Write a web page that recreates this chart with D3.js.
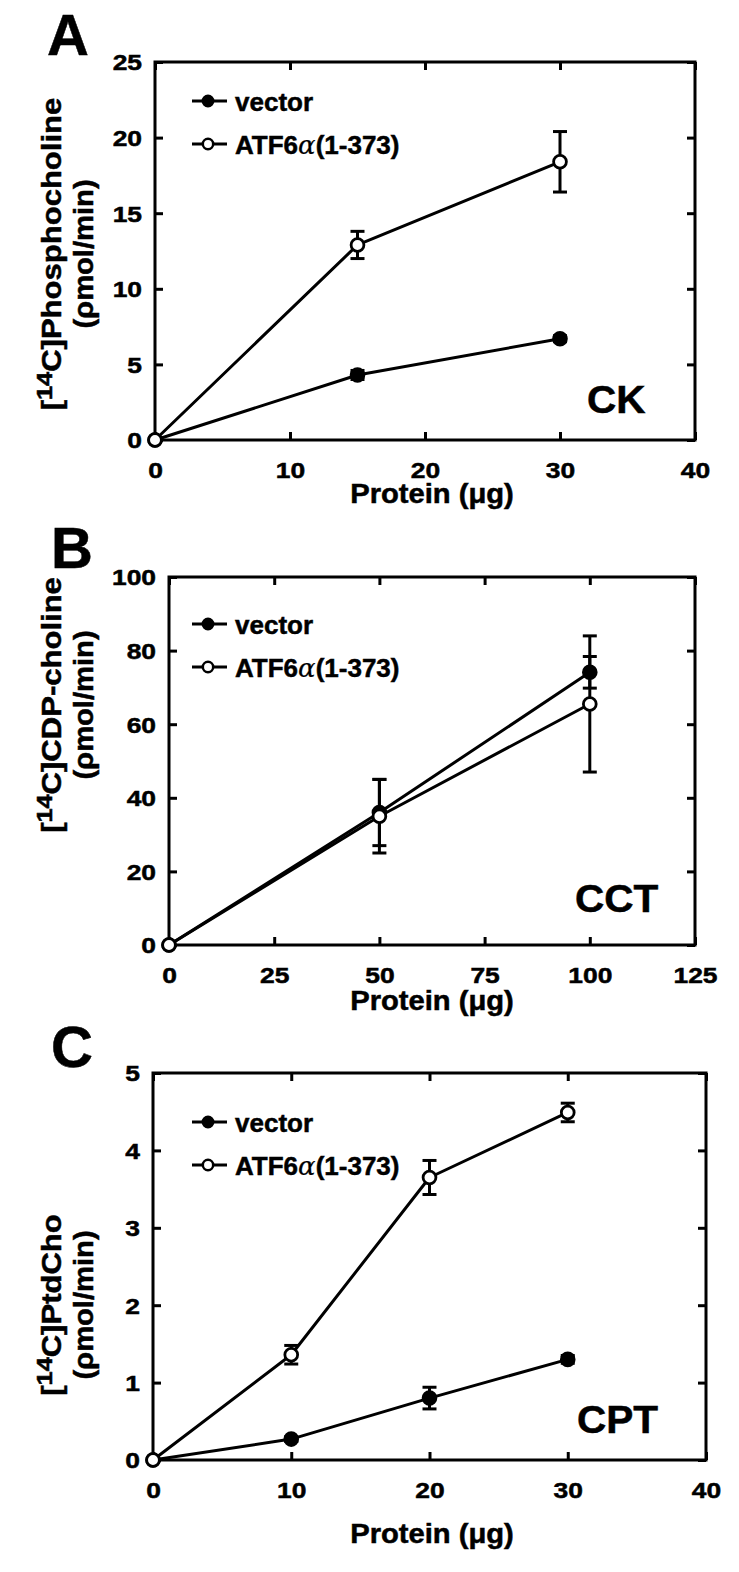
<!DOCTYPE html>
<html><head><meta charset="utf-8">
<script src="https://cdn.jsdelivr.net/npm/d3@7"></script>
<style>
html,body{margin:0;padding:0;background:#fff;}
svg text{font-family:"Liberation Sans",Arial,Helvetica,sans-serif;font-weight:bold;fill:#000;stroke:#000;stroke-width:0.5px;}
</style></head>
<body>
<svg id="chart" width="739" height="1572"></svg>
<script>
// ---------- Data ----------
const seriesNames = ["vector", "ATF6α(1-373)"];

// Panel A (CK)
const xA = [0, 15, 30];
const vectorA = [0, 4.3, 6.7];
const vectorAErr = [0, 0.3, 0.2];
const atfA = [0, 12.9, 18.4];
const atfAErr = [0, 0.9, 2.0];
const xTicksA = [0, 10, 20, 30, 40];
const yTicksA = [0, 5, 10, 15, 20, 25];

// Panel B (CCT)
const xB = [0, 50, 100];
const vectorB = [0, 36, 74.1];
const vectorBErr = [0, 9, 4.3];
const atfB = [0, 35, 65.5];
const atfBErr = [0, 10, 18.5];
const xTicksB = [0, 25, 50, 75, 100, 125];
const yTicksB = [0, 20, 40, 60, 80, 100];

// Panel C (CPT)
const xC = [0, 10, 20, 30];
const vectorC = [0, 0.27, 0.80, 1.30];
const vectorCErr = [0, 0.03, 0.14, 0.05];
const atfC = [0, 1.36, 3.65, 4.49];
const atfCErr = [0, 0.12, 0.22, 0.12];
const xTicksC = [0, 10, 20, 30, 40];
const yTicksC = [0, 1, 2, 3, 4, 5];

const xTitle = "Protein (μg)";
const yUnit = "(ρmol/min)";

// ---------- Layout ----------
const panels = [
  {letter:"A", enzyme:"CK", yt:"Phosphocholine", x:xA, v:vectorA, ve:vectorAErr, a:atfA, ae:atfAErr,
   xt:xTicksA, ytk:yTicksA, left:155, right:695, top:62, bottom:440,
   letterPos:[47,55], enzPos:[587,413], legY:101, ytCenter:254, xTickBase:478, xTitleBase:503},
  {letter:"B", enzyme:"CCT", yt:"CDP-choline", x:xB, v:vectorB, ve:vectorBErr, a:atfB, ae:atfBErr,
   xt:xTicksB, ytk:yTicksB, left:169, right:695, top:577, bottom:945,
   letterPos:[51,568], enzPos:[575,912], legY:624, ytCenter:705, xTickBase:983, xTitleBase:1010},
  {letter:"C", enzyme:"CPT", yt:"PtdCho", x:xC, v:vectorC, ve:vectorCErr, a:atfC, ae:atfCErr,
   xt:xTicksC, ytk:yTicksC, left:153, right:706, top:1073, bottom:1460,
   letterPos:[51,1067], enzPos:[577,1433], legY:1122, ytCenter:1305, xTickBase:1498, xTitleBase:1543}
];

const svg = d3.select("#chart");
const SW = 3;
const TICK_FS = 22, TICK_SX = 1.2;
const X_TITLE_CX = 432;

panels.forEach(p => {
  const g = svg.append("g");
  const xs = d3.scaleLinear().domain([p.xt[0], p.xt[p.xt.length-1]]).range([p.left, p.right]);
  const ys = d3.scaleLinear().domain([p.ytk[0], p.ytk[p.ytk.length-1]]).range([p.bottom, p.top]);

  // axes (inward ticks, mirrored)
  const tickLen = 8;
  const axB = g.append("g").attr("transform", `translate(0,${p.bottom})`)
    .call(d3.axisBottom(xs).tickValues(p.xt).tickSize(-tickLen).tickSizeOuter(0).tickFormat(d3.format("d")));
  const axT = g.append("g").attr("transform", `translate(0,${p.top})`)
    .call(d3.axisTop(xs).tickValues(p.xt).tickSize(-tickLen).tickSizeOuter(0).tickFormat(""));
  const axL = g.append("g").attr("transform", `translate(${p.left},0)`)
    .call(d3.axisLeft(ys).tickValues(p.ytk).tickSize(-tickLen).tickSizeOuter(0).tickFormat(d3.format("d")));
  const axR = g.append("g").attr("transform", `translate(${p.right},0)`)
    .call(d3.axisRight(ys).tickValues(p.ytk).tickSize(-tickLen).tickSizeOuter(0).tickFormat(""));
  [axB, axT, axL, axR].forEach(ax => {
    ax.select(".domain").remove();
    ax.selectAll("line").attr("stroke", "#000").attr("stroke-width", SW);
    ax.selectAll("text").attr("font-size", TICK_FS).attr("fill", null)
      .attr("font-family", null);
  });
  axB.selectAll("text").attr("dy", null).attr("y", 0).attr("x", 0)
    .attr("transform", `translate(0,${p.xTickBase - p.bottom}) scale(${TICK_SX},1)`);
  axL.selectAll("text").attr("x", 0).attr("dy", "0.36em")
    .attr("transform", `translate(-13,0) scale(${TICK_SX},1)`);

  // frame
  g.append("rect").attr("x", p.left).attr("y", p.top)
    .attr("width", p.right - p.left).attr("height", p.bottom - p.top)
    .attr("fill", "none").attr("stroke", "#000").attr("stroke-width", SW);

  // series
  const series = [
    {vals: p.v, err: p.ve, fill: "#000"},
    {vals: p.a, err: p.ae, fill: "#fff"}
  ];
  const line = d3.line().x(d => xs(d[0])).y(d => ys(d[1]));
  series.forEach(s => {
    const pts = p.x.map((xv, i) => [xv, s.vals[i], s.err[i]]);
    g.append("path").datum(pts).attr("d", line)
      .attr("fill", "none").attr("stroke", "#000").attr("stroke-width", SW).attr("stroke-linejoin", "round");
  });
  series.forEach(s => {
    const pts = p.x.map((xv, i) => [xv, s.vals[i], s.err[i]]).filter(d => d[2] > 0);
    const eb = g.append("g").selectAll("g").data(pts).join("g");
    eb.append("line").attr("x1", d => xs(d[0])).attr("x2", d => xs(d[0]))
      .attr("y1", d => ys(d[1] + d[2])).attr("y2", d => ys(d[1] - d[2]))
      .attr("stroke", "#000").attr("stroke-width", SW);
    [1, -1].forEach(sg => {
      eb.append("line").attr("x1", d => xs(d[0]) - 7).attr("x2", d => xs(d[0]) + 7)
        .attr("y1", d => ys(d[1] + sg * d[2])).attr("y2", d => ys(d[1] + sg * d[2]))
        .attr("stroke", "#000").attr("stroke-width", SW);
    });
  });
  series.forEach(s => {
    const pts = p.x.map((xv, i) => [xv, s.vals[i]]);
    g.append("g").selectAll("circle").data(pts).join("circle")
      .attr("cx", d => xs(d[0])).attr("cy", d => ys(d[1])).attr("r", 6.4)
      .attr("fill", s.fill).attr("stroke", "#000").attr("stroke-width", 2.8);
  });

  // legend
  [0, 1].forEach(i => {
    const ly = p.legY + i * 43;
    g.append("line").attr("x1", 192).attr("x2", 227).attr("y1", ly).attr("y2", ly)
      .attr("stroke", "#000").attr("stroke-width", SW);
    g.append("circle").attr("cx", 208).attr("cy", ly).attr("r", 5.2)
      .attr("fill", i === 0 ? "#000" : "#fff").attr("stroke", "#000").attr("stroke-width", 2.5);
    const t = g.append("text").attr("transform", `translate(235,${ly + 10}) scale(1.0,1)`).attr("font-size", 26);
    if (i === 0) t.text(seriesNames[0]);
    else {
      t.append("tspan").text("ATF6");
      t.append("tspan").text("α").style("font-family", '"DejaVu Serif",serif').style("font-weight", "normal")
        .style("font-style", "italic").style("stroke-width", "0.2px");
      t.append("tspan").text("(1-373)");
    }
  });

  // panel letter and enzyme label
  g.append("text").attr("x", p.letterPos[0]).attr("y", p.letterPos[1]).attr("font-size", 58).text(p.letter);
  g.append("text").attr("transform", `translate(${p.enzPos[0]},${p.enzPos[1]}) scale(1.04,1)`).attr("font-size", 39).text(p.enzyme);

  // x title
  g.append("text").attr("transform", `translate(${X_TITLE_CX},${p.xTitleBase}) scale(1.08,1)`)
    .attr("text-anchor", "middle").attr("font-size", 27).text(xTitle);

  // y title (two lines, rotated)
  const yt1 = g.append("text").attr("transform", `translate(61,${p.ytCenter}) rotate(-90) scale(1.15,1)`)
    .attr("text-anchor", "middle").attr("font-size", 27);
  yt1.append("tspan").text("[");
  yt1.append("tspan").text("14").attr("font-size", 22).attr("dy", -9);
  yt1.append("tspan").text("C]" + p.yt).attr("dy", 9);
  g.append("text").attr("transform", `translate(93,${p.ytCenter}) rotate(-90) scale(1.08,1)`)
    .attr("text-anchor", "middle").attr("font-size", 27).text(yUnit);
});
</script>
</body></html>
